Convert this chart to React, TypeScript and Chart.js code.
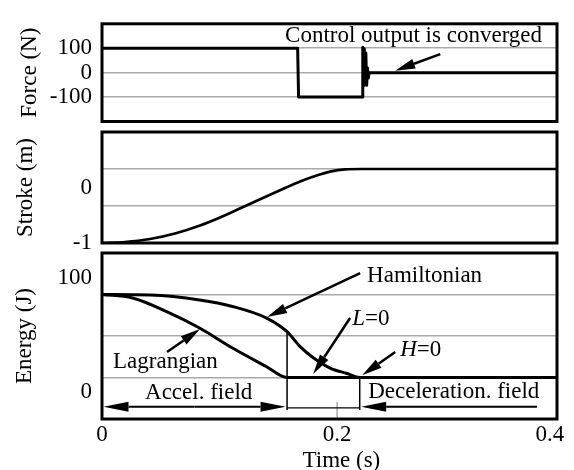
import React, { useEffect, useRef } from "react";
import { Chart, registerables } from "chart.js";

Chart.register(...registerables);

const SERIF = "'Liberation Serif', 'Times New Roman', Times, serif";
const FS = 23;
const GRID = "#a9a9a9";
const W = 574;
const H = 470;

// ---------- shared time axis ----------
const timeMax = 0.387;
const timeTickValues = [0, 0.2, 0.381];
const timeTickLabels = ["0", "0.2", "0.4"];

// ---------- force (N) ----------
const forceTime = [0, 0.1664, 0.1672, 0.2214, 0.2218, 0.2225, 0.2231, 0.2238, 0.2244, 0.2251, 0.2258, 0.2265, 0.2272, 0.387];
const forceValue = [100, 100, -100, -100, 104, -54, 98, -50, 80, -52, 20, -22, 0, 0];
const forceTickValues = [-100, 0, 100];
const forceTickLabels = ["-100", "0", "100"];
const forceGridValues = [-100, 0, 100];

// ---------- stroke (m) ----------
const strokeTime = [0, 0.0196, 0.0409, 0.0621, 0.0834, 0.1004, 0.12, 0.1387, 0.1557, 0.1685, 0.1813, 0.194, 0.2068, 0.22, 0.387];
const strokeValue = [-1, -0.982, -0.928, -0.829, -0.685, -0.541, -0.351, -0.171, -0.009, 0.108, 0.207, 0.285, 0.326, 0.333, 0.333];
const strokeTickValues = [-1, 0];
const strokeTickLabels = ["-1", "0"];
const strokeGridValues = [-1 / 3, 1 / 3];

// ---------- energy (J) ----------
const hamTime = [0, 0.041, 0.083, 0.111, 0.14, 0.1574, 0.1685, 0.18, 0.194, 0.2085, 0.2192, 0.387];
const hamValue = [85.5, 85.0, 80.7, 75.0, 64.8, 52.8, 39.6, 29.6, 20.8, 16.0, 12.5, 12.5];
const lagTime = [0, 0.026, 0.055, 0.083, 0.111, 0.14, 0.1574, 0.387];
const lagValue = [85.5, 82.4, 70.4, 56.0, 38.4, 22.0, 12.5, 12.5];
const energyTickValues = [0, 100];
const energyTickLabels = ["0", "100"];
const energyGridValues = [12.5, 49, 85.5];

// annotation anchors (time)
const lZeroTime = 0.1574;
const hZeroTime = 0.2192;

const pts = (xs: number[], ys: number[]) => xs.map((x, i) => ({ x, y: ys[i] }));

function drawBox(ctx: CanvasRenderingContext2D, a: any) {
  ctx.save();
  ctx.strokeStyle = "#000";
  ctx.lineWidth = 3;
  ctx.strokeRect(a.left, a.top, a.right - a.left, a.bottom - a.top);
  ctx.restore();
}

function drawArrow(ctx: CanvasRenderingContext2D, x1: number, y1: number, x2: number, y2: number, head = 20, half = 5, lw = 2) {
  const ang = Math.atan2(y2 - y1, x2 - x1);
  const bx = x2 - head * Math.cos(ang);
  const by = y2 - head * Math.sin(ang);
  ctx.lineWidth = lw;
  ctx.beginPath();
  ctx.moveTo(x1, y1);
  ctx.lineTo(bx, by);
  ctx.stroke();
  ctx.beginPath();
  ctx.moveTo(x2, y2);
  ctx.lineTo(bx + half * Math.sin(ang), by - half * Math.cos(ang));
  ctx.lineTo(bx - half * Math.sin(ang), by + half * Math.cos(ang));
  ctx.closePath();
  ctx.fill();
}

function drawItalicEq(ctx: CanvasRenderingContext2D, letter: string, rest: string, x: number, y: number) {
  ctx.font = `italic ${FS}px ${SERIF}`;
  ctx.fillText(letter, x, y);
  const w = ctx.measureText(letter).width;
  ctx.font = `${FS}px ${SERIF}`;
  ctx.fillText(rest, x + w, y);
}

function yAxis(min: number, max: number, tickVals: number[], tickLabels: string[], gridVals: number[], title: string, titlePad: number) {
  const all = Array.from(new Set([min, ...gridVals, ...tickVals, max])).sort((a, b) => a - b);
  return {
    type: "linear",
    position: "left",
    min,
    max,
    afterBuildTicks: (s: any) => {
      s.ticks = all.map((v) => ({ value: v }));
    },
    afterFit: (s: any) => {
      s.width = 102;
    },
    grid: {
      drawTicks: false,
      lineWidth: 1.5,
      color: (c: any) => (c.tick && gridVals.includes(c.tick.value) ? GRID : "rgba(0,0,0,0)"),
    },
    border: { display: false },
    ticks: {
      autoSkip: false,
      padding: 10,
      color: "#000",
      font: { family: SERIF, size: FS },
      callback: (v: any) => {
        const i = tickVals.indexOf(v);
        return i >= 0 ? tickLabels[i] : "";
      },
    },
    title: {
      display: true,
      text: title,
      color: "#000",
      font: { family: SERIF, size: FS },
      padding: { top: titlePad, bottom: 0 },
    },
  };
}

function hiddenX() {
  return { type: "linear", min: 0, max: timeMax, display: false };
}

function lineDs(data: any[], width: number, smooth: boolean) {
  return {
    data,
    borderColor: "#000",
    borderWidth: width,
    pointRadius: 0,
    fill: false,
    tension: 0,
    cubicInterpolationMode: smooth ? "monotone" : "default",
    borderJoinStyle: "round",
  };
}

export default function App() {
  const r1 = useRef<HTMLCanvasElement>(null);
  const r2 = useRef<HTMLCanvasElement>(null);
  const r3 = useRef<HTMLCanvasElement>(null);

  useEffect(() => {
    const common = {
      responsive: false,
      animation: false,
      events: [],
      plugins: { legend: { display: false }, tooltip: { enabled: false } },
    };

    const forceChart = new Chart(r1.current!, {
      type: "line",
      data: { datasets: [lineDs(pts(forceTime, forceValue), 3, false)] as any },
      options: {
        ...common,
        layout: { padding: { top: 13, right: 17, bottom: H - 121.5, left: 0 } },
        scales: {
          x: hiddenX() as any,
          y: yAxis(-200, 200, forceTickValues, forceTickLabels, forceGridValues, "Force (N)", 16.5) as any,
        },
      } as any,
      plugins: [
        {
          id: "forceNotes",
          afterDraw(chart: any) {
            const { ctx, chartArea, scales } = chart;
            const x = scales.x, y = scales.y;
            drawBox(ctx, chartArea);
            ctx.save();
            ctx.fillStyle = "#000";
            ctx.strokeStyle = "#000";
            ctx.font = `${FS}px ${SERIF}`;
            ctx.textAlign = "left";
            ctx.textBaseline = "alphabetic";
            ctx.fillText("Control output is converged", x.getPixelForValue(0.1557), y.getPixelForValue(126));
            drawArrow(ctx, x.getPixelForValue(0.2877), y.getPixelForValue(76), x.getPixelForValue(0.2494), y.getPixelForValue(8), 20, 5, 2.5);
            ctx.restore();
          },
        },
      ],
    } as any);

    const strokeChart = new Chart(r2.current!, {
      type: "line",
      data: { datasets: [lineDs(pts(strokeTime, strokeValue), 2.7, true)] as any },
      options: {
        ...common,
        layout: { padding: { top: 132, right: 17, bottom: H - 243, left: 0 } },
        scales: {
          x: hiddenX() as any,
          y: yAxis(-1, 1, strokeTickValues, strokeTickLabels, strokeGridValues, "Stroke (m)", 12.5) as any,
        },
      } as any,
      plugins: [
        {
          id: "strokeBox",
          afterDraw(chart: any) {
            drawBox(chart.ctx, chart.chartArea);
          },
        },
      ],
    } as any);

    const energyChart = new Chart(r3.current!, {
      type: "line",
      data: {
        datasets: [lineDs(pts(hamTime, hamValue), 3, true), lineDs(pts(lagTime, lagValue), 3, true)] as any,
      },
      options: {
        ...common,
        layout: { padding: { top: 253, right: 17, bottom: 0, left: 0 } },
        scales: {
          x: {
            type: "linear",
            min: 0,
            max: timeMax,
            afterBuildTicks: (s: any) => {
              s.ticks = timeTickValues.map((v) => ({ value: v }));
            },
            afterFit: (s: any) => {
              s.height = 51;
            },
            grid: { display: false, drawTicks: false },
            border: { display: false },
            ticks: {
              autoSkip: false,
              maxRotation: 0,
              padding: 2.5,
              color: "#000",
              font: { family: SERIF, size: FS },
              callback: (v: any) => {
                const i = timeTickValues.indexOf(v);
                return i >= 0 ? timeTickLabels[i] : "";
              },
            },
          } as any,
          y: yAxis(-24, 122, energyTickValues, energyTickLabels, energyGridValues, "Energy (J)", 11) as any,
        },
      } as any,
      plugins: [
        {
          id: "energyNotes",
          afterDraw(chart: any) {
            const { ctx, chartArea, scales } = chart;
            const x = scales.x, y = scales.y;
            const px = (t: number) => x.getPixelForValue(t);
            const py = (v: number) => y.getPixelForValue(v);
            ctx.save();
            ctx.fillStyle = "#000";
            // grey tick at 0.2
            ctx.strokeStyle = GRID;
            ctx.lineWidth = 1.5;
            ctx.beginPath();
            ctx.moveTo(px(0.2), py(-9));
            ctx.lineTo(px(0.2), chartArea.bottom);
            ctx.stroke();
            ctx.strokeStyle = "#000";
            // vertical markers
            ctx.lineWidth = 1.5;
            ctx.beginPath();
            ctx.moveTo(px(lZeroTime), py(52.8));
            ctx.lineTo(px(lZeroTime), py(-16));
            ctx.moveTo(px(hZeroTime), py(12.5));
            ctx.lineTo(px(hZeroTime), py(-16));
            ctx.stroke();
            // connector between verticals
            ctx.lineWidth = 1.2;
            ctx.beginPath();
            ctx.moveTo(px(lZeroTime), py(-14.2));
            ctx.lineTo(px(hZeroTime), py(-14.2));
            ctx.stroke();
            // Accel double arrow
            const ay = py(-13.2);
            const aL = px(0) + 1.5, aR = px(lZeroTime) - 1.5;
            const mid = (aL + aR) / 2;
            drawArrow(ctx, mid, ay, aL, ay, 25, 5, 2);
            drawArrow(ctx, mid, ay, aR, ay, 25, 5, 2);
            // Deceleration arrow
            drawArrow(ctx, px(0.37), ay, px(hZeroTime) + 1.5, ay, 25, 5, 2);
            // pointer arrows
            drawArrow(ctx, px(0.2196), py(104.4), px(0.1404), py(65.7), 20, 5, 2.5);
            drawArrow(ctx, px(0.211), py(64.8), px(0.1796), py(15.6), 20, 5, 2.5);
            drawArrow(ctx, px(0.2494), py(34.9), px(0.2213), py(14.5), 20, 5, 2.5);
            drawArrow(ctx, px(0.0553), py(34.9), px(0.0834), py(55.2), 20, 5, 2.5);
            // texts
            ctx.font = `${FS}px ${SERIF}`;
            ctx.textAlign = "left";
            ctx.textBaseline = "alphabetic";
            ctx.fillText("Hamiltonian", px(0.2255), py(96.5));
            ctx.fillText("Lagrangian", px(0.0094), py(20.8));
            ctx.fillText("Accel. field", px(0.0366), py(-6.4));
            ctx.fillText("Deceleration. field", px(0.2264), py(-5.5));
            drawItalicEq(ctx, "L", "=0", px(0.2128), py(58.7));
            drawItalicEq(ctx, "H", "=0", px(0.2536), py(31.4));
            // x-axis title
            ctx.font = `${FS}px ${SERIF}`;
            ctx.textAlign = "center";
            ctx.fillText("Time (s)", px(0.2036), 466.5);
            ctx.restore();
            drawBox(ctx, chartArea);
          },
        },
      ],
    } as any);

    return () => {
      forceChart.destroy();
      strokeChart.destroy();
      energyChart.destroy();
    };
  }, []);

  const cv: React.CSSProperties = { position: "absolute", left: 0, top: 0 };
  return (
    <div style={{ position: "absolute", left: 0, top: 0, width: W, height: H, background: "#fff" }}>
      <canvas ref={r1} width={W} height={H} style={cv} />
      <canvas ref={r2} width={W} height={H} style={cv} />
      <canvas ref={r3} width={W} height={H} style={cv} />
    </div>
  );
}
